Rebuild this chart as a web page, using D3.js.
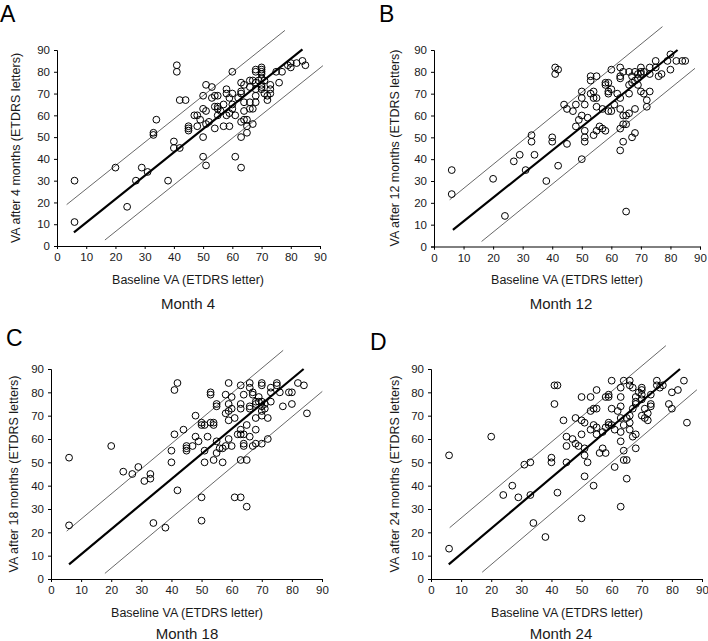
<!DOCTYPE html>
<html><head><meta charset="utf-8">
<script src="https://cdn.jsdelivr.net/npm/d3@7"></script>
<style>
html,body{margin:0;padding:0;background:#fff;}
svg{display:block;font-family:"Liberation Sans",Arial,sans-serif;}
</style></head>
<body><svg id="c" width="708" height="641"></svg>
<script>
const xTicks = [0,10,20,30,40,50,60,70,80,90];
const yTicks = [0,10,20,30,40,50,60,70,80,90];
const panelLetters = ["A","B","C","D"];
const panelTitles = ["Month 4","Month 12","Month 18","Month 24"];
const yLabels = ["VA after 4 months (ETDRS letters)","VA after 12 months (ETDRS letters)","VA after 18 months (ETDRS letters)","VA after 24 months (ETDRS letters)"];
const xLabel = "Baseline VA (ETDRS letter)";

const month4 = [[6,30],[6,11],[20,36],[24,18],[27,30],[29,36],[31,34],[33,52],[33,51],[34,58],[38,30],[40,48],[40,45],[41,83],[41,80],[42,67],[44,67],[42,45],[45,55],[45,54],[45,53],[47,60],[48,60],[48,55],[49,58],[50,69],[50,63],[50,50],[50,41],[51,74],[51,62],[51,56],[51,37],[52,57],[53,73],[53,68],[54,64],[54,69],[54,54],[55,69],[55,64],[55,63],[55,60],[56,62],[57,65],[57,55],[58,72],[58,70],[58,60],[59,68],[59,55],[59,61],[60,80],[60,70],[60,65],[60,63],[61,60],[61,41],[62,68],[63,75],[63,71],[63,70],[63,57],[63,50],[63,36],[64,74],[64,66],[64,62],[64,58],[65,58],[65,55],[65,52],[66,76],[66,73],[66,66],[66,63],[67,76],[67,63],[67,56],[68,81],[68,80],[68,75],[68,72],[68,69],[68,66],[69,76],[70,82],[70,81],[70,80],[70,79],[70,77],[70,74],[70,73],[70,72],[71,76],[71,70],[72,69],[72,67],[73,74],[73,72],[73,70],[75,80],[76,75],[77,80],[79,83],[80,84],[80,82],[82,84],[84,85],[85,83]];

const month12 = [[6,35],[6,24],[20,31],[24,14],[27,39],[29,42],[31,35],[33,51],[33,48],[34,42],[38,30],[40,50],[40,48],[41,82],[41,79],[42,81],[42,37],[44,65],[45,63],[45,47],[47,62],[48,65],[48,55],[49,58],[50,71],[50,68],[50,60],[50,40],[51,65],[51,53],[51,50],[51,48],[52,59],[53,78],[53,76],[53,70],[54,71],[54,68],[54,51],[55,78],[55,68],[55,64],[55,53],[56,55],[57,63],[57,54],[58,75],[58,74],[58,53],[59,75],[59,71],[59,70],[59,62],[60,81],[60,72],[60,62],[61,65],[62,70],[63,82],[63,78],[63,77],[63,68],[63,63],[63,54],[63,44],[64,80],[64,60],[64,56],[64,48],[65,60],[65,56],[65,16],[66,80],[66,74],[66,70],[66,61],[67,78],[67,75],[67,50],[68,80],[68,76],[68,63],[68,52],[69,79],[69,77],[69,74],[70,82],[70,80],[70,79],[70,71],[71,80],[71,70],[72,67],[72,64],[73,82],[73,79],[73,71],[75,85],[75,82],[76,78],[77,79],[79,85],[80,88],[80,81],[82,85],[84,85],[85,85]];

const month18 = [[6,52],[6,23],[20,57],[24,46],[27,45],[29,48],[31,42],[33,45],[33,43],[34,24],[38,22],[40,55],[40,50],[41,81],[42,84],[41,62],[42,38],[44,64],[45,57],[45,56],[45,55],[47,57],[48,70],[48,61],[49,59],[50,67],[50,66],[50,35],[50,25],[51,66],[51,55],[51,50],[52,61],[53,80],[53,79],[53,67],[54,67],[54,66],[54,51],[55,75],[55,74],[55,59],[55,54],[56,56],[57,56],[57,50],[58,79],[58,71],[58,57],[59,84],[59,75],[59,72],[59,68],[59,60],[60,78],[60,73],[60,57],[61,69],[61,35],[62,62],[63,83],[63,75],[63,73],[63,64],[63,62],[63,51],[63,35],[64,79],[64,62],[64,58],[64,57],[65,66],[65,51],[65,31],[66,84],[66,82],[66,74],[66,73],[66,61],[67,80],[67,79],[67,57],[68,76],[68,75],[68,69],[68,64],[68,58],[69,78],[69,76],[70,84],[70,83],[70,76],[70,74],[70,72],[70,70],[70,58],[71,75],[71,73],[72,69],[72,60],[73,82],[73,80],[73,76],[75,84],[75,83],[76,80],[77,74],[79,80],[80,80],[80,75],[82,84],[84,83],[85,71]];

const month24 = [[6,53],[6,13],[20,61],[24,36],[27,40],[29,35],[31,49],[33,50],[33,36],[34,24],[38,18],[40,52],[40,50],[41,83],[42,83],[41,75],[42,37],[44,68],[45,61],[45,57],[45,50],[47,60],[48,69],[48,58],[49,57],[50,78],[50,68],[50,62],[50,26],[51,67],[51,56],[51,53],[51,44],[52,50],[53,78],[53,72],[53,64],[54,73],[54,66],[54,40],[55,81],[55,73],[55,65],[55,62],[56,54],[57,63],[57,56],[58,78],[58,65],[58,54],[59,79],[59,78],[59,67],[59,66],[60,85],[60,73],[60,66],[61,64],[61,48],[62,72],[63,82],[63,78],[63,74],[63,69],[63,63],[63,59],[63,31],[64,85],[64,66],[64,55],[64,51],[65,69],[65,51],[65,43],[66,85],[66,83],[66,67],[66,64],[66,70],[67,82],[67,73],[67,61],[68,78],[68,76],[68,75],[68,62],[68,56],[69,80],[70,82],[70,81],[70,79],[70,77],[70,70],[71,73],[71,69],[72,71],[72,68],[73,79],[73,75],[73,74],[75,85],[75,83],[76,82],[77,83],[79,75],[80,80],[80,73],[82,81],[84,85],[85,67]];

// regression line and bounds, endpoints in data units [x1,y1,x2,y2]
const fitLines = [[5.8,6.3,84,90.3],[6.4,7.6,82.4,90],[6,6.3,83.9,90],[5.9,6.3,82.7,90]];
const upperLines = [[3.3,19,78,99],[5.3,21.4,77.3,100.7],[5.2,20.5,77.1,98],[6.2,22,78,100]];
const lowerLines = [[16.4,2.75,91,82.8],[16.1,2.3,88.3,81.6],[17.9,2.4,90.1,80.4],[17,2.9,88.3,81.1]];

const datasets = [month4, month12, month18, month24];

// layout
const layout = [
  {x0:57, x1:320, y0:246, y1:50, letter:[0,22], title:[188,309], xl:[188,284], yl:[16,148]},
  {x0:434, x1:700, y0:246.5, y1:50, letter:[379,22], title:[561,309], xl:[567,284], yl:[395,148]},
  {x0:51, x1:322, y0:579, y1:369, letter:[6,346], title:[187,639], xl:[187,617], yl:[14,474]},
  {x0:431, x1:702, y0:579, y1:369, letter:[370,350], title:[561,639], xl:[567,617], yl:[395,474]}
];

const svg = d3.select("#c");
const tc = "#1a1a1a";

datasets.forEach((data,i)=>{
  const L = layout[i];
  const x = d3.scaleLinear().domain([0,90]).range([L.x0,L.x1]);
  const y = d3.scaleLinear().domain([0,90]).range([L.y0,L.y1]);
  const g = svg.append("g");

  const xa = g.append("g").attr("transform",`translate(0,${L.y0})`)
    .call(d3.axisBottom(x).tickValues(xTicks).tickSizeOuter(0).tickSize(3).tickPadding(4));
  const ya = g.append("g").attr("transform",`translate(${L.x0},0)`)
    .call(d3.axisLeft(y).tickValues(yTicks).tickSizeOuter(0).tickSize(3).tickPadding(4));
  [xa,ya].forEach(a=>{
    a.selectAll("path,line").attr("stroke","#000").attr("stroke-width",1);
    a.selectAll("text").attr("fill",tc).style("font-size","11.5px").style("font-family","'Liberation Sans',Arial,sans-serif");
  });

  const seg = (arr,w)=> g.append("line")
    .attr("x1",x(arr[0])).attr("y1",y(arr[1])).attr("x2",x(arr[2])).attr("y2",y(arr[3]))
    .attr("stroke","#000").attr("stroke-width",w);
  seg(upperLines[i],0.6);
  seg(lowerLines[i],0.6);
  seg(fitLines[i],2.2);

  g.append("g").selectAll("circle").data(data).join("circle")
    .attr("cx",d=>x(d[0])).attr("cy",d=>y(d[1])).attr("r",3.4)
    .attr("fill","none").attr("stroke","#000").attr("stroke-width",1);

  g.append("text").attr("x",L.letter[0]).attr("y",L.letter[1]).text(panelLetters[i])
    .attr("fill","#000").style("font-size","23px");
  g.append("text").attr("x",L.title[0]).attr("y",L.title[1]).attr("text-anchor","middle")
    .text(panelTitles[i]).attr("fill",tc).style("font-size","15px");
  g.append("text").attr("x",L.xl[0]).attr("y",L.xl[1]).attr("text-anchor","middle")
    .text(xLabel).attr("fill",tc).style("font-size","12.5px");
  g.append("text").attr("transform",`translate(${L.yl[0]+4},${L.yl[1]}) rotate(-90)`)
    .attr("text-anchor","middle").text(yLabels[i]).attr("fill",tc).style("font-size","12.5px");
});
</script></body></html>
